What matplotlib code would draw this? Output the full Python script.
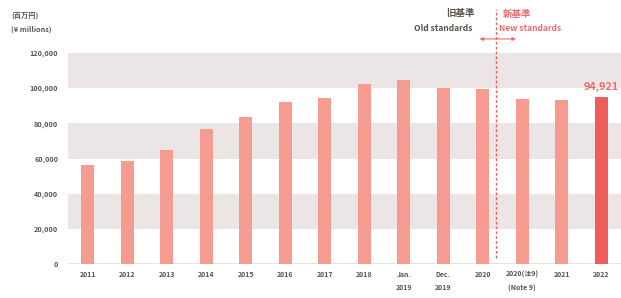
import matplotlib
matplotlib.use("Agg")
import matplotlib.pyplot as plt
import numpy as np

plt.rcParams['font.family'] = ['Noto Sans CJK JP', 'DejaVu Sans']

# ── data ──────────────────────────────────────────────
categories = ['2011', '2012', '2013', '2014', '2015', '2016', '2017', '2018',
              'Jan.\n2019', 'Dec.\n2019', '2020', '2020(注9)\n(Note 9)', '2021', '2022']
values = [56500, 58500, 64600, 77000, 83700, 91900, 94200, 102400,
          104600, 99900, 99400, 93800, 93200, 94921]
yticks = [0, 20000, 40000, 60000, 80000, 100000, 120000]
bands = [(20000, 40000), (60000, 80000), (100000, 120000)]

BAR = '#f59b90'
HIGHLIGHT = '#f05b5c'
RED_TXT = '#f06a6a'
GRAY_TXT = '#555555'
OLD_TXT = '#5a5448'

fig = plt.figure(figsize=(6.21, 2.98), dpi=100)
ax = fig.add_axes([68/621, 34/298, 553/621, 211/298])

for lo, hi in bands:
    ax.axhspan(lo, hi, color='#ebe5e6', lw=0, zorder=0)
ax.axhline(0, color='#e4dfdf', lw=2, zorder=1)

x = np.arange(len(categories))
colors = [BAR] * (len(values) - 1) + [HIGHLIGHT]
ax.bar(x, values, width=0.32, color=colors, zorder=2)

ax.text(x[-1], values[-1] + 3000, f'{values[-1]:,}', ha='center', va='bottom',
        fontsize=7.8, fontweight='bold', color=RED_TXT)

ax.set_xlim(-0.5, len(categories) - 0.5)
ax.set_ylim(0, 120000)
ax.set_yticks(yticks)
ax.set_yticklabels([f'{v:,}' for v in yticks], fontsize=5.2, fontweight='bold', color=GRAY_TXT)
ax.set_xticks(x)
ax.set_xticklabels(categories, fontsize=5, fontweight='bold', color=GRAY_TXT, linespacing=2.0,
                   va='top')
ax.tick_params(axis='both', length=0)
ax.tick_params(axis='y', pad=7)
ax.tick_params(axis='x', pad=5)
for s in ax.spines.values():
    s.set_visible(False)

# old / new standards divider
xdiv = 10.34
ax.plot([xdiv, xdiv], [3500, 145000], ls=(0, (2, 1.5)), color='#f06060', lw=1,
        clip_on=False, zorder=3)
ax.annotate('', xy=(xdiv - 0.42, 128000), xytext=(xdiv + 0.5, 128000),
            arrowprops=dict(arrowstyle='<|-|>', color=RED_TXT, lw=0.8,
                            mutation_scale=5, shrinkA=0, shrinkB=0),
            annotation_clip=False)
ax.text(xdiv - 0.55, 142500, '旧基準', ha='right', va='center', fontsize=6.8,
        fontweight='bold', color=OLD_TXT)
ax.text(xdiv - 0.6, 134000, 'Old standards', ha='right', va='center', fontsize=6.1,
        fontweight='bold', color=OLD_TXT)
ax.text(xdiv + 0.17, 142500, '新基準', ha='left', va='center', fontsize=6.8,
        fontweight='bold', color=RED_TXT)
ax.text(xdiv + 0.07, 134000, 'New standards', ha='left', va='center', fontsize=6.1,
        fontweight='bold', color=RED_TXT)

fig.text(11/621, 1 - 15/298, '(百万円)', ha='left', va='center', fontsize=5.2,
         fontweight='bold', color=GRAY_TXT)
fig.text(11/621, 1 - 29.5/298, '(¥ millions)', ha='left', va='center', fontsize=5.2,
         fontweight='bold', color=GRAY_TXT)

fig.savefig('out.png', dpi=100)
